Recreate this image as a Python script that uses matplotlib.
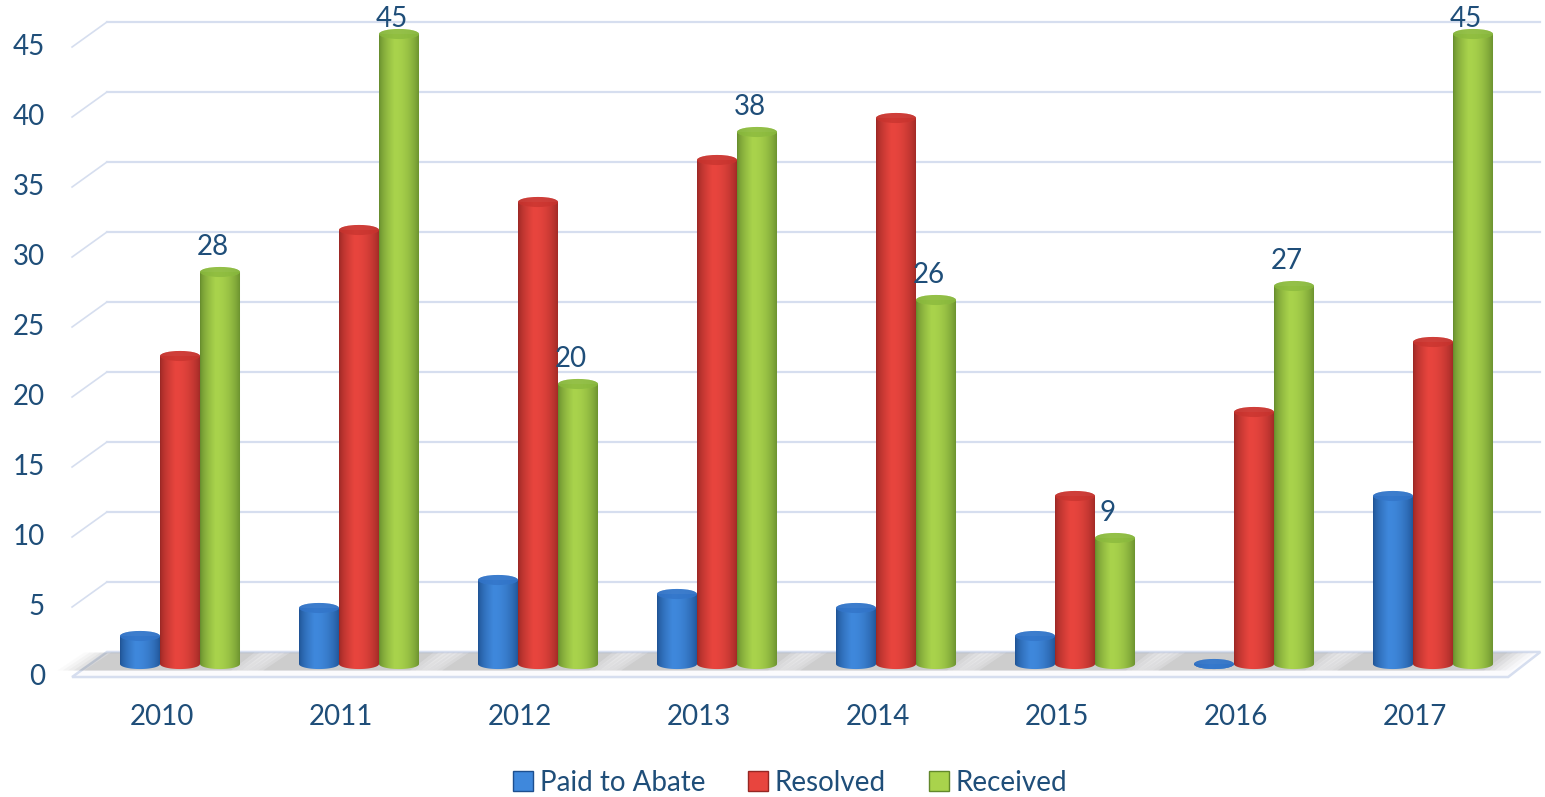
import numpy as np
import matplotlib.pyplot as plt
from matplotlib.patches import Ellipse, PathPatch, Polygon
from matplotlib.path import Path
from matplotlib.colors import to_rgb
from matplotlib.lines import Line2D

years = ["2010", "2011", "2012", "2013", "2014", "2015", "2016", "2017"]
paid = [2, 4, 6, 5, 4, 2, 0, 12]
resolved = [22, 31, 33, 36, 39, 12, 18, 23]
received = [28, 45, 20, 38, 26, 9, 27, 45]
series = ["Paid to Abate", "Resolved", "Received"]
yticks = [0, 5, 10, 15, 20, 25, 30, 35, 40, 45]

# (dark edge, highlight, top colour)
shades = [("#1d4f8f", "#3f88dc", "#2f6fc2"),
          ("#962623", "#e8453e", "#bf302b"),
          ("#62882b", "#a9d34c", "#82b23a")]
text_col = "#1f4e79"
grid_col = "#d6deef"

plt.rcParams['font.family'] = ['Lato', 'DejaVu Sans']

fig = plt.figure(figsize=(15.45, 7.97), dpi=100)
ax = fig.add_axes([0, 0, 1, 1])
ax.set_axis_off()
xmin, xmax = -180 / 179, (1545 - 180) / 179
ymin, ymax = -133 / 14, (797 - 133) / 14

# depth offsets from the bar plane (category units, value units)
back_dx, back_dy = 0.095, 0.86
front_dx, front_dy = -0.10, -0.93
wall_left, wall_right = -0.408, 7.6
floor_right = 7.42

# back wall grid lines plus side diagonals
for v in yticks[1:]:
    ax.plot([wall_left, wall_right], [v + back_dy, v + back_dy], color=grid_col, lw=1.6, zorder=1)
    ax.plot([wall_left + front_dx - back_dx, wall_left], [v + front_dy, v + back_dy],
            color=grid_col, lw=1.2, zorder=1)

# floor
floor = Polygon([(wall_left + front_dx - back_dx, front_dy), (floor_right, front_dy),
                 (wall_right, back_dy), (wall_left, back_dy)],
                closed=True, facecolor="#fbfbfd", edgecolor=grid_col, lw=1.8, zorder=1)
ax.add_patch(floor)

bw = 0.2235
eh = 0.72
n = len(years)

# soft shadows on the floor
for i in range(n):
    for k, a in enumerate(np.linspace(0.09, 0.03, 6)):
        grow = 0.03 * k
        sh = Polygon([(i - 1.5 * bw - 0.2 - grow, front_dy * 0.5),
                      (i + 1.5 * bw - 0.05 + grow, front_dy * 0.5),
                      (i + 1.5 * bw + 0.08 + grow, back_dy * 0.95),
                      (i - 1.5 * bw - 0.05 - grow, back_dy * 0.95)],
                     closed=True, facecolor="#6f6f6f", edgecolor="none", alpha=a, zorder=2)
        ax.add_patch(sh)


def gradient(dark, light):
    t = np.linspace(0, 1, 128)
    prof = np.where(t < 0.38, (t / 0.38) ** 0.6, np.cos((t - 0.38) / 0.62 * np.pi / 2) ** 0.7)
    d, l = np.array(to_rgb(dark)), np.array(to_rgb(light))
    cols = d[None, :] + (l - d)[None, :] * prof[:, None]
    return cols[None, :, :]


def cylinder(xc, v, dark, light, topc, z):
    x0, x1 = xc - bw / 2, xc + bw / 2
    th = np.linspace(np.pi, 2 * np.pi, 40)
    bottom = np.column_stack([xc + bw / 2 * np.cos(th), eh / 2 * np.sin(th)])
    verts = np.vstack([[(x0, v)], bottom, [(x1, v)], [(x0, v)]])
    codes = [Path.MOVETO] + [Path.LINETO] * (len(verts) - 2) + [Path.CLOSEPOLY]
    body = PathPatch(Path(verts, codes), facecolor="none", edgecolor="none", zorder=z)
    ax.add_patch(body)
    im = ax.imshow(gradient(dark, light), extent=[x0, x1, -eh, v + eh], aspect="auto",
                   origin="lower", zorder=z, interpolation="bilinear")
    im.set_clip_path(body)
    top = Ellipse((xc, v), bw, eh, facecolor="none", edgecolor="none", zorder=z + 0.1)
    ax.add_patch(top)
    im2 = ax.imshow(gradient(topc, light), extent=[x0, x1, v - eh, v + eh], aspect="auto",
                    origin="lower", zorder=z + 0.1, alpha=0.9, interpolation="bilinear")
    im2.set_clip_path(top)
    ax.add_patch(Ellipse((xc, v), bw, eh, facecolor=topc, edgecolor="none", alpha=0.6,
                         zorder=z + 0.2))


for s, vals in enumerate([paid, resolved, received]):
    dark, light, topc = shades[s]
    for i, v in enumerate(vals):
        xc = i + (s - 1) * bw
        cylinder(xc, v, dark, light, topc, 3 + s + i * 0.01)

# data labels on Received (kept inside the plot area at the top)
for i, v in enumerate(received):
    ax.text(i + bw - 0.04, min(v + 1.8, 46.1), str(v), ha="center", va="center",
            fontsize=20, color=text_col, zorder=10)

# value axis labels
for v in yticks:
    ax.text(-0.754, v + front_dy, str(v), ha="right", va="center", fontsize=20, color=text_col)

# category labels
for i, yr in enumerate(years):
    ax.text(i + front_dx, -3.8, yr, ha="center", va="center", fontsize=20, color=text_col)

handles = [Line2D([], [], marker="s", linestyle="none", markersize=15,
                  markerfacecolor=shades[k][1], markeredgecolor=shades[k][0])
           for k in range(3)]
ax.legend(handles, series, loc="center", bbox_to_anchor=(0.51, 0.018), ncol=3, frameon=False,
          fontsize=20, labelcolor=text_col, handletextpad=0.1, columnspacing=1.4,
          handlelength=1.0)

ax.set_xlim(xmin, xmax)
ax.set_ylim(ymin, ymax)
fig.savefig("out.png", dpi=100)
